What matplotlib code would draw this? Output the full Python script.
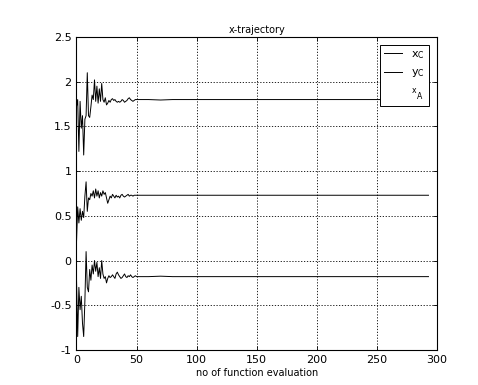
import matplotlib
matplotlib.use("Agg")
import matplotlib.pyplot as plt
from matplotlib.ticker import MultipleLocator

# evaluation index (dense early, sparse once converged)
evals = list(range(51)) + [55, 60, 70, 80, 90, 100, 120, 140, 160, 180, 200, 220, 240, 260, 280, 293]

x_c = [1.72, 1.80, 1.22, 1.78, 1.48, 1.62, 1.18, 1.58, 1.62, 2.10,
       1.62, 1.60, 1.72, 1.85, 1.80, 2.02, 1.78, 1.95, 1.76, 1.92,
       1.78, 1.98, 1.80, 1.77, 1.82, 1.74, 1.76, 1.79, 1.77, 1.80,
       1.81, 1.79, 1.80, 1.78, 1.77, 1.78, 1.77, 1.78, 1.80, 1.79,
       1.77, 1.78, 1.79, 1.81, 1.82, 1.80, 1.79, 1.78, 1.79, 1.80,
       1.80,
       1.80, 1.80, 1.795, 1.80, 1.80, 1.80, 1.80, 1.80, 1.80, 1.80, 1.80, 1.80, 1.80, 1.80, 1.80, 1.80]

y_c = [0.20, 0.60, 0.42, 0.58, 0.45, 0.55, 0.48, 0.72, 0.88, 0.55,
       0.70, 0.68, 0.75, 0.72, 0.78, 0.70, 0.80, 0.72, 0.78, 0.70,
       0.76, 0.72, 0.78, 0.74, 0.76, 0.70, 0.64, 0.68, 0.72, 0.70,
       0.74, 0.72, 0.70, 0.73, 0.71, 0.72, 0.70, 0.73, 0.74, 0.72,
       0.71, 0.72, 0.73, 0.74, 0.72, 0.73, 0.73, 0.72, 0.73, 0.73,
       0.73,
       0.73, 0.73, 0.73, 0.73, 0.73, 0.73, 0.73, 0.73, 0.73, 0.73, 0.73, 0.73, 0.73, 0.73, 0.73, 0.73]

x_a = [-0.20, -0.85, -0.30, -0.55, -0.40, -0.70, -0.85, -0.45, 0.10, -0.30,
       -0.35, -0.10, -0.22, -0.05, -0.15, 0.00, -0.12, -0.02, -0.18, -0.08,
       -0.20, 0.00, -0.15, -0.20, -0.18, -0.25, -0.20, -0.17, -0.19, -0.18,
       -0.16, -0.18, -0.20, -0.15, -0.13, -0.16, -0.18, -0.20, -0.19, -0.17,
       -0.15, -0.18, -0.19, -0.17, -0.18, -0.16, -0.18, -0.19, -0.18, -0.17,
       -0.18,
       -0.18, -0.18, -0.175, -0.18, -0.18, -0.18, -0.18, -0.18, -0.18, -0.18, -0.18, -0.18, -0.18, -0.18, -0.18, -0.18]

labels = [r"$\mathrm{x_C}$", r"$\mathrm{y_C}$", r"${}^{\mathrm{x}}{}_{\mathrm{A}}$"]
yticks = [-1, -0.5, 0, 0.5, 1, 1.5, 2, 2.5]
ytick_labels = ["-1", "-0.5", "0", "0.5", "1", "1.5", "2", "2.5"]

fig = plt.figure(figsize=(4.78, 3.85), dpi=100)
ax = fig.add_axes([0.160, 0.091, 0.754, 0.813])

lines = []
for series, lab in zip([x_c, y_c, x_a], labels):
    ln, = ax.plot(evals, series, color="black", linewidth=0.7, label=lab)
    lines.append(ln)

ax.set_xlim(0, 300)
ax.set_ylim(-1, 2.5)
ax.xaxis.set_major_locator(MultipleLocator(50))
ax.set_yticks(yticks)
ax.set_yticklabels(ytick_labels)
ax.tick_params(direction="in", top=True, right=True, labelsize=8, length=3, width=0.6)
ax.grid(True, color="black", linestyle=(0, (1.5, 2)), linewidth=0.6)
for sp in ax.spines.values():
    sp.set_linewidth(0.8)

ax.set_title("x-trajectory", fontsize=7, pad=3)
ax.set_xlabel("no of function evaluation", fontsize=7, labelpad=2)

leg = ax.legend(loc="upper right", fontsize=8, frameon=True, fancybox=False,
                edgecolor="black", framealpha=1, handlelength=1.6,
                handletextpad=0.8, borderaxespad=0.4, labelspacing=0.6,
                bbox_to_anchor=(0.99, 0.99))
leg.get_frame().set_linewidth(0.7)
leg.get_lines()[2].set_visible(False)

fig.savefig("out.png", dpi=100)
